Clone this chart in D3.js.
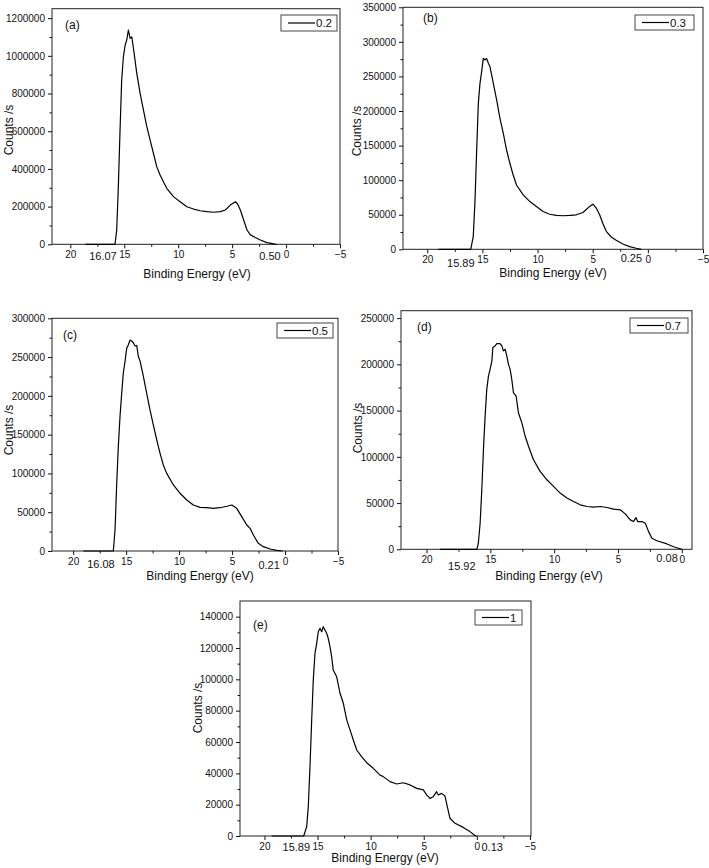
<!DOCTYPE html>
<html><head><meta charset="utf-8">
<script src="https://cdn.jsdelivr.net/npm/d3@7"></script>
<style>
html,body{margin:0;padding:0;background:#fff;}
svg{display:block;font-family:"Liberation Sans",Arial,sans-serif;}
</style></head>
<body><svg id="chart" width="709" height="868"></svg>
<script>
// ---------- data ----------
const panelIds = ["a","b","c","d","e"];
const panelLabels = ["(a)","(b)","(c)","(d)","(e)"];
const legendLabels = ["0.2","0.3","0.5","0.7","1"];
const xTitle = "Binding Energy (eV)";
const yTitle = "Counts /s";

const beA = [18.6,17.1,16.2,15.86,15.7,15.55,15.4,15.24,15.08,14.92,14.77,14.62,14.46,14.3,14.15,13.84,13.53,13.22,12.91,12.6,12.3,11.99,11.68,11.37,11.06,10.44,9.82,9.2,8.58,7.96,7.34,6.72,6.1,5.63,5.17,4.7,4.49,4.24,3.93,3.62,3.31,2.85,2.39,1.77,1.15,0.9];
const cntA = [0,0,0,0,76000,305000,590000,872000,995000,1057000,1084000,1137000,1093000,1100000,1040000,907000,801000,712000,624000,553000,483000,412000,368000,332000,297000,253000,226000,199000,187000,178000,173000,170000,173000,182000,208000,226000,214000,182000,129000,76000,50000,36000,23000,9000,2000,0];

const beB = [19.0,16.6,16.06,15.83,15.67,15.52,15.37,15.22,15.07,14.92,14.77,14.62,14.46,14.31,14.16,14.01,13.71,13.41,13.11,12.81,12.51,12.21,11.91,11.3,10.7,10.1,9.5,8.9,8.29,7.69,7.09,6.48,5.88,5.28,4.98,4.67,4.37,4.07,3.77,3.32,2.87,2.27,1.66,1.06,0.6];
const cntB = [0,0,0,18200,71300,143600,211000,240000,256900,276200,273800,276200,269000,264000,252000,240000,216000,189500,168000,143600,124400,107500,93000,78700,69000,61800,54600,50700,49000,48500,49000,49900,53300,62000,65300,59500,49900,37000,26000,17800,13000,7700,3900,1500,0];

const beC = [19.04,17.47,16.21,16.05,15.89,15.74,15.58,15.42,15.27,15.11,14.95,14.8,14.63,14.48,14.32,14.16,14.0,13.85,13.69,13.37,13.06,12.75,12.43,12.11,11.8,11.49,11.17,10.54,9.91,9.28,8.66,8.02,7.39,6.77,6.14,5.5,5.03,4.56,4.09,3.61,3.3,2.99,2.52,2.05,1.41,0.78,0.22];
const cntC = [0,0,0,27000,87300,134500,173200,203300,229000,244000,261300,265600,272000,270700,268500,264300,265000,251000,245000,224700,203300,181800,162400,143100,125900,110900,100100,85100,74400,65700,59300,56300,55800,55000,55800,57700,59300,55000,44300,33500,29200,20600,9900,5600,2600,700,0];

const beD = [18.94,17.24,16.06,15.94,15.8,15.67,15.54,15.41,15.28,15.15,15.02,14.88,14.8,14.63,14.49,14.24,14.1,13.98,13.84,13.71,13.58,13.45,13.32,13.19,12.98,12.8,12.53,12.27,12.01,11.62,11.1,10.57,10.05,9.53,9.0,8.48,7.96,7.43,6.91,6.39,5.86,5.34,4.82,4.43,4.04,3.78,3.59,3.46,3.12,2.86,2.6,2.34,1.95,1.16,0.64,0];
const cntD = [0,0,0,6500,28200,64400,107800,144000,172900,187300,194600,203600,218200,219900,222500,222500,219900,214500,216300,209100,200000,194600,183700,169300,165600,147600,136700,122200,111400,96900,84300,75200,68000,60800,55400,51700,48100,46300,45600,46300,45200,43400,42700,38300,31800,30000,34300,30000,30000,28200,19100,11900,9300,5800,2800,0];

const beE = [19.32,17.59,16.3,16.02,15.87,15.71,15.55,15.4,15.24,15.08,14.93,14.77,14.61,14.46,14.3,14.14,13.99,13.83,13.67,13.52,13.2,12.88,12.57,12.25,11.94,11.63,11.31,10.85,10.37,9.75,9.12,8.81,8.18,7.54,6.92,6.29,5.66,5.04,4.73,4.41,4.1,3.79,3.63,3.32,3.0,2.78,2.53,2.06,1.28,0.65,0.18,0.02];
const cntE = [0,0,0,6000,18700,44300,74100,99600,116600,123000,130400,132600,130400,133600,131500,129400,126200,120900,114500,106000,101700,91100,84700,74100,67700,61300,54900,50600,46800,43200,38900,37900,34700,33200,34000,32600,30400,29400,26200,24000,25100,28300,26200,27200,25500,18700,11300,8100,5500,2800,300,0];

// annotated edge energies (text as printed)
const onsetLabels = ["16.07","15.89","16.08","15.92","15.89"];
const onsetValues = [16.07,15.89,16.08,15.92,15.89];
const edgeLabels  = ["0.50","0.25","0.21","0.08","0.13"];
const edgeValues  = [0.50,0.25,0.21,0.08,0.13];

const xMajorTicks = [20,15,10,5,0,-5];
const xMinorTicks = [17.5,12.5,7.5,2.5,-2.5];
const yTickSteps = [200000,50000,50000,50000,20000];
const yMaxTicks  = [1200000,350000,300000,250000,140000];

const energies = [beA,beB,beC,beD,beE];
const counts = [cntA,cntB,cntC,cntD,cntE];

// ---------- layout (not data) ----------
const layout = [
  {x0:52, x1:340, y0:8.7,  y1:244.3, xDom:[21.7,-5],  yMax:1250000,
   lab:[65,29], leg:[281,15,56,16], xt:[197,278], yt:[13,130],
   on:{dx:4, dy:16, anchor:"end"}, ed:{dx:0, dy:16, anchor:"end"}},
  {x0:403, x1:703, y0:7.3, y1:249.3, xDom:[22.2,-5], yMax:350000,
   lab:[423,22], leg:[635,15,59,15], xt:[553,277], yt:[361,131],
   on:{dx:2, dy:18, anchor:"end"}, ed:{dx:-3, dy:13, anchor:"end"}},
  {x0:52, x1:338, y0:318.3, y1:551, xDom:[22,-5], yMax:300000,
   lab:[63,339], leg:[277,323,56,15], xt:[200,580], yt:[13,430],
   on:{dx:0, dy:17, anchor:"end"}, ed:{dx:-3, dy:18, anchor:"end"}},
  {x0:401, x1:692, y0:310.7, y1:549.3, xDom:[22,-0.8], yMax:258000,
   lab:[417,331], leg:[630,318,58,15], xt:[549,580], yt:[362,428],
   on:{dx:-3, dy:21, anchor:"end"}, ed:{dx:-3, dy:13, anchor:"end"}},
  {x0:240, x1:531, y0:601, y1:836, xDom:[22.3,-5.1], yMax:150000,
   lab:[253,629], leg:[475,610,47,15], xt:[385,862], yt:[202,708],
   on:{dx:2, dy:15, anchor:"end"}, ed:{dx:6, dy:15, anchor:"start"}}
];

const svg = d3.select("#chart");
const INK = "#111";

panelIds.forEach((id, i) => {
  const L = layout[i];
  const g = svg.append("g").attr("class","panel-"+id);
  const x = d3.scaleLinear().domain(L.xDom).range([L.x0, L.x1]);
  const y = d3.scaleLinear().domain([0, L.yMax]).range([L.y1, L.y0]);
  const inX = v => v <= L.xDom[0] && v >= L.xDom[1];

  // frame
  g.append("rect").attr("x",L.x0).attr("y",L.y0)
    .attr("width",L.x1-L.x0).attr("height",L.y1-L.y0)
    .attr("fill","none").attr("stroke","#222").attr("stroke-width",1);

  // x axis
  const xAxis = d3.axisBottom(x).tickValues(xMajorTicks.filter(inX))
    .tickFormat(d3.format("d")).tickSize(4).tickSizeOuter(0).tickPadding(3);
  const gx = g.append("g").attr("transform",`translate(0,${L.y1})`).call(xAxis);
  gx.select(".domain").remove();
  gx.selectAll("line").attr("stroke",INK);
  gx.selectAll("text").attr("font-size",10).attr("fill",INK)
    .attr("font-family","Liberation Sans, Arial, sans-serif");
  g.append("g").attr("transform",`translate(0,${L.y1})`)
    .call(d3.axisBottom(x).tickValues(xMinorTicks.filter(inX)).tickSize(2.5).tickFormat(""))
    .call(s => { s.select(".domain").remove(); s.selectAll("line").attr("stroke",INK); });

  // y axis
  const yMajor = d3.range(0, yMaxTicks[i] + 1, yTickSteps[i]);
  const yMinor = d3.range(yTickSteps[i]/2, L.yMax, yTickSteps[i]);
  const gy = g.append("g").attr("transform",`translate(${L.x0},0)`)
    .call(d3.axisLeft(y).tickValues(yMajor).tickFormat(d3.format("d"))
      .tickSize(4).tickSizeOuter(0).tickPadding(3));
  gy.select(".domain").remove();
  gy.selectAll("line").attr("stroke",INK);
  gy.selectAll("text").attr("font-size",10).attr("fill",INK)
    .attr("font-family","Liberation Sans, Arial, sans-serif");
  g.append("g").attr("transform",`translate(${L.x0},0)`)
    .call(d3.axisLeft(y).tickValues(yMinor).tickSize(2.5).tickFormat(""))
    .call(s => { s.select(".domain").remove(); s.selectAll("line").attr("stroke",INK); });

  // spectrum
  const pts = d3.zip(energies[i], counts[i]);
  g.append("path").datum(pts)
    .attr("fill","none").attr("stroke","#000").attr("stroke-width",1.2)
    .attr("stroke-linejoin","round")
    .attr("d", d3.line().x(d => x(d[0])).y(d => y(d[1])));

  // panel label
  g.append("text").attr("x",L.lab[0]).attr("y",L.lab[1])
    .attr("font-size",12).attr("fill",INK).text(panelLabels[i]);

  // legend
  const [bx,by,bw,bh] = L.leg;
  g.append("rect").attr("x",bx).attr("y",by).attr("width",bw).attr("height",bh)
    .attr("fill","#fff").attr("stroke","#444").attr("stroke-width",1);
  g.append("line").attr("x1",bx+7).attr("x2",bx+34)
    .attr("y1",by+bh/2).attr("y2",by+bh/2).attr("stroke","#000").attr("stroke-width",1.2);
  g.append("text").attr("x",bx+35).attr("y",by+bh/2+4)
    .attr("font-size",11.5).attr("fill",INK).text(legendLabels[i]);

  // axis titles
  g.append("text").attr("x",L.xt[0]).attr("y",L.xt[1]).attr("text-anchor","middle")
    .attr("font-size",12).attr("fill",INK).text(xTitle);
  g.append("text").attr("transform",`translate(${L.yt[0]},${L.yt[1]}) rotate(-90)`)
    .attr("text-anchor","middle").attr("font-size",12).attr("fill",INK).text(yTitle);

  // edge annotations
  g.append("text").attr("x",x(onsetValues[i]) + L.on.dx).attr("y",L.y1 + L.on.dy)
    .attr("text-anchor",L.on.anchor).attr("font-size",11).attr("fill",INK).text(onsetLabels[i]);
  g.append("text").attr("x",x(edgeValues[i]) + L.ed.dx).attr("y",L.y1 + L.ed.dy)
    .attr("text-anchor",L.ed.anchor).attr("font-size",11).attr("fill",INK).text(edgeLabels[i]);
});
</script>
</body></html>
